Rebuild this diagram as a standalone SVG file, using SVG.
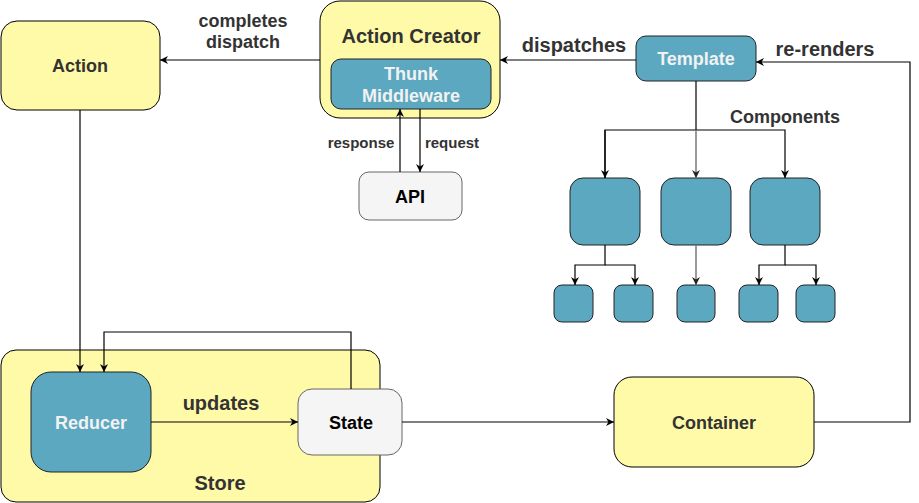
<svg xmlns="http://www.w3.org/2000/svg" width="919" height="503" viewBox="0 0 919 503">
<style>
  text { font-family: "Liberation Sans", Arial, sans-serif; font-weight: bold; text-anchor: middle; }
  .yellow { fill: #fffaa8; stroke: #000; stroke-width: 1; }
  .blue { fill: #5ca8c1; stroke: #222; stroke-width: 1; }
  .white { fill: #f5f5f5; stroke: #666; stroke-width: 1; }
  .lbl { fill: #333; }
  .wt { fill: #f2f2f2; }
  .bk { fill: #000; }
  .c { fill: none; stroke: #000; stroke-width: 1.2; }
  .g { fill: none; stroke: #808080; stroke-width: 1.6; }
</style>
<defs>
  <marker id="ah" viewBox="0 0 10 10" refX="10" refY="5" markerWidth="8" markerHeight="8" orient="auto" markerUnits="userSpaceOnUse">
    <path d="M0,0 L10,5 L0,10 L3,5 Z" fill="#000"/>
  </marker>
  <marker id="ahg" viewBox="0 0 10 10" refX="10" refY="5" markerWidth="8" markerHeight="8" orient="auto" markerUnits="userSpaceOnUse">
    <path d="M0,0 L10,5 L0,10 L3,5 Z" fill="#222"/>
  </marker>
</defs>

<g id="store">
  <rect class="yellow" x="1" y="350" width="379" height="152" rx="15"/>
  <text class="lbl" x="220" y="490" font-size="20">Store</text>
</g>

<g id="action">
  <rect class="yellow" x="1" y="21" width="159" height="89" rx="16"/>
  <text class="lbl" x="80" y="72" font-size="18">Action</text>
</g>

<g id="action-creator">
  <rect class="yellow" x="320" y="1" width="180" height="117" rx="20"/>
  <text class="lbl" x="411" y="43" font-size="20">Action Creator</text>
</g>

<g id="thunk">
  <rect class="blue" x="331" y="59" width="160" height="50" rx="10"/>
  <text class="wt" x="411" y="80" font-size="18">Thunk</text>
  <text class="wt" x="411" y="102" font-size="18">Middleware</text>
</g>

<g id="api">
  <rect class="white" x="359" y="172" width="103" height="48" rx="10"/>
  <text class="bk" x="410" y="203" font-size="18">API</text>
</g>

<g id="template">
  <rect class="blue" x="636" y="36" width="120" height="45" rx="10"/>
  <text class="wt" x="696" y="65" font-size="18">Template</text>
</g>

<g id="comp1"><rect class="blue" x="570" y="178" width="70" height="67" rx="13"/></g>
<g id="comp2"><rect class="blue" x="661" y="178" width="70" height="67" rx="13"/></g>
<g id="comp3"><rect class="blue" x="750" y="178" width="70" height="67" rx="13"/></g>

<g id="sub1"><rect class="blue" x="554" y="285" width="39" height="37" rx="8"/></g>
<g id="sub2"><rect class="blue" x="614" y="285" width="39" height="37" rx="8"/></g>
<g id="sub3"><rect class="blue" x="677" y="285" width="38" height="37" rx="8"/></g>
<g id="sub4"><rect class="blue" x="739" y="285" width="39" height="37" rx="8"/></g>
<g id="sub5"><rect class="blue" x="796" y="285" width="39" height="37" rx="8"/></g>

<g id="reducer">
  <rect class="blue" x="31" y="372" width="120" height="100" rx="20"/>
  <text class="wt" x="91" y="429" font-size="18">Reducer</text>
</g>

<g id="state">
  <rect class="white" x="298" y="389" width="104" height="66" rx="14"/>
  <text class="bk" x="351" y="429" font-size="18">State</text>
</g>

<g id="container">
  <rect class="yellow" x="614" y="377" width="200" height="90" rx="18"/>
  <text class="lbl" x="714" y="429" font-size="18">Container</text>
</g>

<g id="connectors">
  <path class="c" d="M320,60 L160,60" marker-end="url(#ah)"/>
  <path class="c" d="M636,60 L500,60" marker-end="url(#ah)"/>
  <path class="c" d="M400,172 L400,109" marker-end="url(#ah)"/>
  <path class="c" d="M420,109 L420,172" marker-end="url(#ah)"/>
  <path class="c" d="M696,81 L696,130"/>
  <path class="c" d="M605,178 L605,130 L785,130 L785,178" marker-end="url(#ah)"/>
  <path class="c" d="M605,130 L605,178" marker-end="url(#ah)"/>
  <path class="g" d="M696,130 L696,178" marker-end="url(#ahg)"/>
  <path class="c" d="M605,245 L605,265 L575,265 L575,285" marker-end="url(#ah)"/>
  <path class="c" d="M605,265 L635,265 L635,285" marker-end="url(#ah)"/>
  <path class="g" d="M696,245 L696,285" marker-end="url(#ahg)"/>
  <path class="c" d="M785,245 L785,265 L759,265 L759,285" marker-end="url(#ah)"/>
  <path class="c" d="M785,265 L816,265 L816,285" marker-end="url(#ah)"/>
  <path class="c" d="M80,110 L80,372" marker-end="url(#ah)"/>
  <path class="c" d="M351,389 L351,332 L104,332 L104,372" marker-end="url(#ah)"/>
  <path class="c" d="M151,422 L298,422" marker-end="url(#ah)"/>
  <path class="c" d="M402,422 L614,422" marker-end="url(#ah)"/>
  <path class="c" d="M814,422 L910,422 L910,62 L756,62" marker-end="url(#ah)"/>
  <text class="lbl" x="243" y="27" font-size="18">completes</text>
  <text class="lbl" x="243" y="48" font-size="18">dispatch</text>
  <text class="lbl" x="574" y="52" font-size="20">dispatches</text>
  <text class="lbl" x="825" y="56" font-size="20">re-renders</text>
  <text class="lbl" x="785" y="123" font-size="18">Components</text>
  <text class="lbl" x="361" y="148" font-size="15">response</text>
  <text class="lbl" x="452" y="148" font-size="15">request</text>
  <text class="lbl" x="221" y="410" font-size="20">updates</text>
</g>
</svg>
